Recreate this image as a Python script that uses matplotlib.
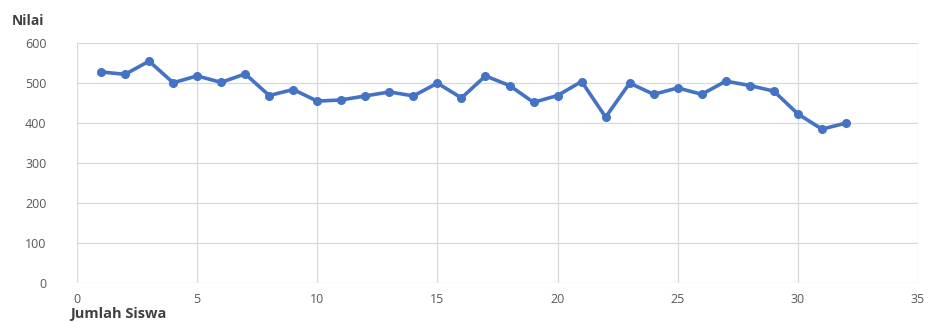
import matplotlib
matplotlib.use("Agg")
import matplotlib.pyplot as plt

# Scores per student
siswa = list(range(1, 33))
nilai = [528, 522, 555, 501, 518, 502, 523, 469, 484, 455,
         458, 468, 478, 468, 500, 463, 518, 494, 452, 469,
         504, 415, 500, 472, 488, 472, 505, 494, 480, 423,
         385, 400]

x_ticks = [0, 5, 10, 15, 20, 25, 30, 35]
y_ticks = [0, 100, 200, 300, 400, 500, 600]

plt.rcParams["font.family"] = ["Open Sans", "DejaVu Sans"]

fig = plt.figure(figsize=(9.32, 3.22), dpi=100)
ax = fig.add_axes([0.0826, 0.121, 0.9024, 0.745])

ax.plot(siswa, nilai, color="#4472C4", linewidth=2.6, marker="o",
        markersize=5.5, markerfacecolor="#4472C4", markeredgecolor="#4472C4",
        zorder=3)

ax.set_xlim(0, 35)
ax.set_ylim(0, 600)
ax.set_xticks(x_ticks)
ax.set_yticks(y_ticks)
ax.grid(True, color="#D9D9D9", linewidth=0.9)
ax.set_axisbelow(True)
for s in ax.spines.values():
    s.set_visible(False)
ax.tick_params(length=0, labelsize=9, labelcolor="#595959")
ax.tick_params(axis="x", pad=7)
ax.tick_params(axis="y", pad=22)

fig.text(0.013, 0.935, "Nilai", fontsize=10, fontweight="bold",
         color="#404040", ha="left", va="center")
fig.text(0.075, 0.004, "Jumlah Siswa", fontsize=10.5, fontweight="bold",
         color="#404040", ha="left", va="bottom")

fig.savefig("out.png", dpi=100)
